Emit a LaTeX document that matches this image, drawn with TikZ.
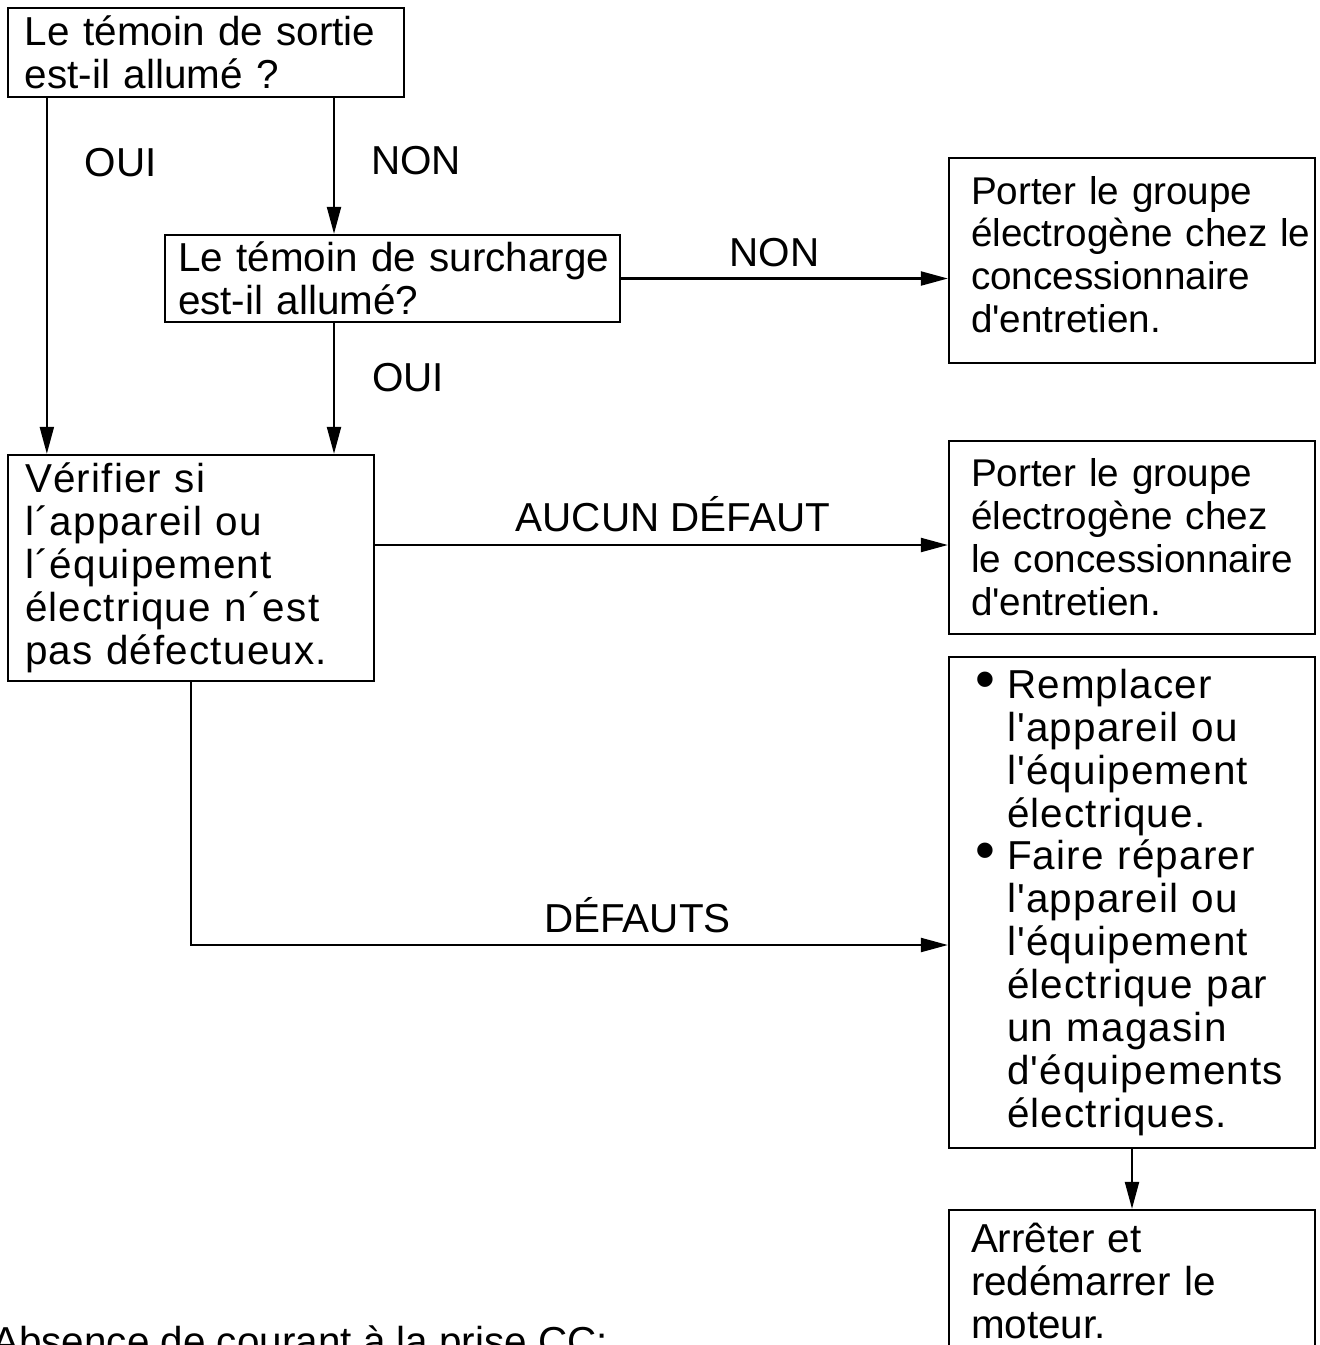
\documentclass[tikz,border=0pt]{standalone}
\usepackage{fontspec}
\newfontfamily\chartfont{Liberation Sans}
\newfontfamily\widefont{Liberation Sans}[LetterSpace=3]
\usetikzlibrary{positioning,arrows.meta}
\hyphenpenalty=10000
\exhyphenpenalty=10000
\newcommand{\fbase}{\chartfont\fontsize{23}{24.45}\selectfont}
\newcommand{\fwide}{\widefont\fontsize{23}{24.45}\selectfont}
\newcommand{\fnarrow}{\chartfont\fontsize{22}{24.45}\selectfont}
\tikzset{
  box/.style={draw, line width=1.3pt, align=left, inner ysep=0pt, font=\fbase},
  lbl/.style={inner sep=0pt, font=\fbase},
  arr/.style={line width=1.2pt, -{Triangle[length=0.54cm,width=0.28cm]}},
}
\newcommand{\puce}{\leavevmode\llap{\scalebox{1.4}{\textbullet}\hspace{0.24cm}}}

\begin{document}
\begin{tikzpicture}
\useasboundingbox (0,0) rectangle (26.38,-26.9);

% questions
\node[box, text width=7.24cm, inner xsep=0.34cm, minimum height=1.78cm] (sortie) at (4.12,-1.05)
  {Le~témoin~de~sortie\\est-il allumé ?};
\node[box, text width=8.58cm, inner xsep=0.26cm, minimum height=1.74cm] (surcharge) at (7.85,-5.57)
  {Le~témoin~de~surcharge\\est-il allumé?};
\node[box, font=\fwide, text width=6.64cm, inner xsep=0.34cm, minimum height=4.52cm] (verif) at (3.82,-11.36)
  {Vérifier si\\l´appareil ou\\l´équipement\\électrique~n´est\\pas~défectueux.};

% actions
\node[box, font=\fnarrow, text width=6.44cm, inner xsep=0.44cm, minimum height=4.1cm, text depth=2.82cm] (concessA) at (22.64,-5.21)
  {Porter~le~groupe\\électrogène~chez~le\\concessionnaire\\d'entretien.};
\node[box, font=\fnarrow, text width=6.44cm, inner xsep=0.44cm, minimum height=3.86cm] (concessB) at (22.64,-10.75)
  {Porter~le~groupe\\électrogène~chez\\le~concessionnaire\\d'entretien.};
\node[box, font=\fwide, text width=5cm, inner xsep=1.16cm, minimum height=9.82cm] (remplacer) at (22.64,-18.05)
  {\puce Remplacer\\l'appareil~ou\\l'équipement\\électrique.\\\puce Faire~réparer\\l'appareil~ou\\l'équipement\\électrique~par\\un~magasin\\d'équipements\\électriques.};
\node[box, text width=6.44cm, inner xsep=0.44cm, minimum height=2.84cm] (arreter) at (22.64,-25.62)
  {Arrêter et\\redémarrer~le\\moteur.};

\node[lbl, anchor=base west] (titre) at (-0.16,-27.1) {Absence de courant à la prise CC:};

\coordinate (cOui) at ([xshift=0.8cm]verif.north west);
\coordinate (cNon) at ([xshift=-1.17cm]surcharge.north);
\coordinate (cAucun) at ([yshift=0.46cm]verif.east);
\coordinate (cDef) at ([yshift=-0.85cm]remplacer.west);

\draw[arr] (sortie.south -| cOui) -- node[lbl, right=0.74cm, pos=0.18] (oui1) {OUI} (cOui);
\draw[arr] (sortie.south -| cNon) -- node[lbl, right=0.72cm, pos=0.46] (non1) {NON} (cNon);
\draw[arr] (surcharge.east) -- node[lbl, above=0.22cm, pos=0.47] (non2) {NON} (surcharge.east -| concessA.west);
\draw[arr] (surcharge.south -| cNon) -- node[lbl, right=0.74cm, pos=0.42] (oui2) {OUI} (verif.north -| cNon);
\draw[arr] (cAucun) -- node[lbl, above=0.25cm, pos=0.52] (aucun) {AUCUN DÉFAUT} (cAucun -| concessB.west);
\draw[arr] (verif.south) |- node[lbl, above=0.22cm, pos=0.795] (defauts) {DÉFAUTS} (cDef);
\draw[arr] (remplacer.south) -- (arreter.north);
\end{tikzpicture}
\end{document}
